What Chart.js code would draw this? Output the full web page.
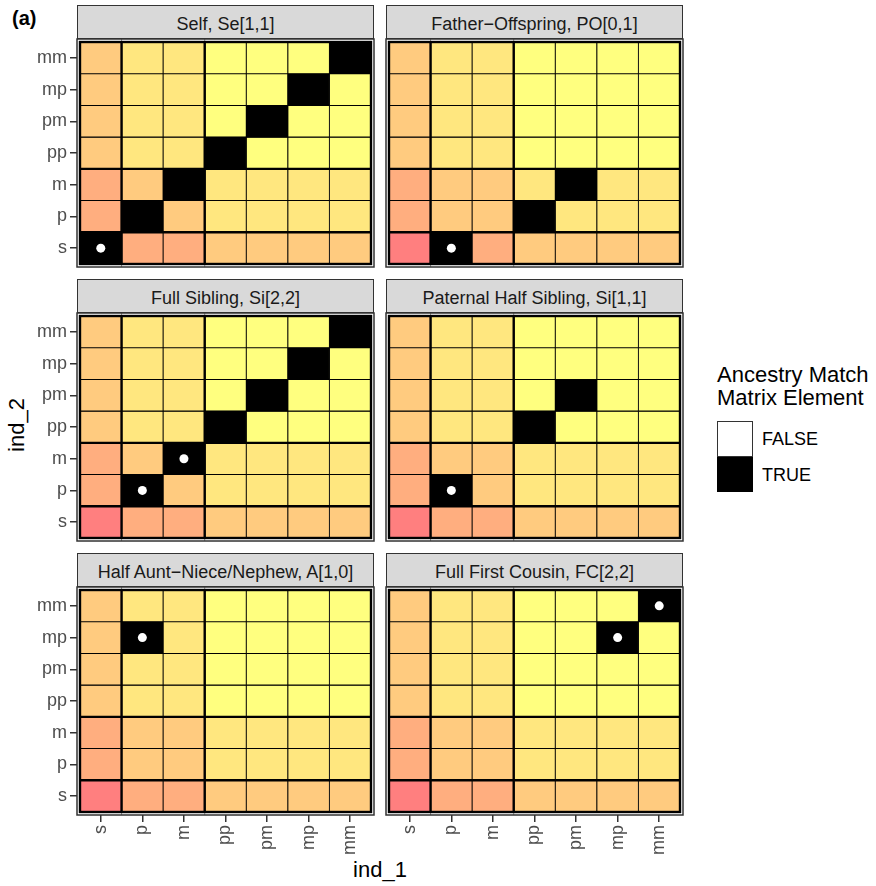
<!DOCTYPE html>
<html>
<head>
<meta charset="utf-8">
<script src="https://cdn.jsdelivr.net/npm/chart.js@4.4.0/dist/chart.umd.min.js"></script>
<style>
  body { margin: 0; background: #fff; width: 876px; height: 886px; position: relative; overflow: hidden;
         font-family: 'Liberation Sans', Arial, sans-serif; }
  canvas { position: absolute; }
  .strip { position: absolute; box-sizing: border-box; background: #d9d9d9; border: 1.5px solid #333;
           color: #1a1a1a; font-size: 18px; text-align: center; line-height: 31px; }
  .strip span { position: relative; top: 3px; }
  .txt { position: absolute; white-space: nowrap; color: #000; }
  .key { position: absolute; box-sizing: border-box; width: 36px; }
</style>
</head>
<body>
<div class="txt" style="left:12px; top:8px; font-size:20px; line-height:20px; font-weight:bold;">(a)</div>
<div class="txt" style="left:330px; top:859px; width:100px; text-align:center; font-size:22px; line-height:22px;">ind_1</div>
<div class="txt" style="left:-33px; top:414px; width:100px; height:22px; text-align:center; font-size:22px; line-height:22px; transform:rotate(-90deg);">ind_2</div>
<div id="legend"></div>

<script>
// categories (same on both axes), bottom-to-top / left-to-right
const levels = ['s', 'p', 'm', 'pp', 'pm', 'mp', 'mm'];

// background colour index of each cell, rows s..mm, columns s..mm
const bgLevel = [
  [0, 1, 1, 2, 2, 2, 2],
  [1, 2, 2, 3, 3, 3, 3],
  [1, 2, 2, 3, 3, 3, 3],
  [2, 3, 3, 4, 4, 4, 4],
  [2, 3, 3, 4, 4, 4, 4],
  [2, 3, 3, 4, 4, 4, 4],
  [2, 3, 3, 4, 4, 4, 4],
];
const heatColors = ['#ff7f7f', '#ffae7f', '#ffcb7f', '#ffe77f', '#ffff7f'];

// boundaries between the s | p,m | pp..mm groups
const groupBreaks = [0.5, 2.5];

const panelTitles = [
  'Self, Se[1,1]',
  'Father\u2212Offspring, PO[0,1]',
  'Full Sibling, Si[2,2]',
  'Paternal Half Sibling, Si[1,1]',
  'Half Aunt\u2212Niece/Nephew, A[1,0]',
  'Full First Cousin, FC[2,2]',
];

// TRUE cells as [ind_1, ind_2]
const trueCells = [
  [['s', 's'], ['p', 'p'], ['m', 'm'], ['pp', 'pp'], ['pm', 'pm'], ['mp', 'mp'], ['mm', 'mm']],
  [['p', 's'], ['pp', 'p'], ['pm', 'm']],
  [['p', 'p'], ['m', 'm'], ['pp', 'pp'], ['pm', 'pm'], ['mp', 'mp'], ['mm', 'mm']],
  [['p', 'p'], ['pp', 'pp'], ['pm', 'pm']],
  [['p', 'mp']],
  [['mp', 'mp'], ['mm', 'mm']],
];

// cells marked with a white dot
const dotCells = [
  [['s', 's']],
  [['p', 's']],
  [['p', 'p'], ['m', 'm']],
  [['p', 'p']],
  [['p', 'mp']],
  [['mp', 'mp'], ['mm', 'mm']],
];

const legendLabels = ['FALSE', 'TRUE'];
const legendFills = ['#ffffff', '#000000'];

// layout of the facet grid
const panelLeft = [77, 386];
const panelTop = [39, 313, 587];
const panelW = 297;
const panelH = 228;
const stripH = 34;

Chart.defaults.font.family = "'Liberation Sans', Arial, sans-serif";

// Рамка панели, толстые линии между группами
const panelFrame = {
  id: 'panelFrame',
  beforeDatasetsDraw(chart) {
    const { ctx, chartArea: a, scales: { x } } = chart;
    ctx.save();
    ctx.strokeStyle = '#8c8c8c';
    ctx.lineWidth = 1;
    groupBreaks.forEach((b) => {
      const px = x.getPixelForValue(b);
      ctx.beginPath();
      ctx.moveTo(px, a.top);
      ctx.lineTo(px, a.bottom);
      ctx.stroke();
    });
    ctx.restore();
  },
  afterDatasetsDraw(chart) {
    const { ctx, chartArea: a, scales: { x, y } } = chart;
    const x0 = x.getPixelForValue(-0.5);
    const x1 = x.getPixelForValue(levels.length - 0.5);
    const y0 = y.getPixelForValue(-0.5);
    const y1 = y.getPixelForValue(levels.length - 0.5);
    ctx.save();
    ctx.strokeStyle = '#000';
    ctx.lineWidth = 2.4;
    groupBreaks.forEach((b) => {
      const px = x.getPixelForValue(b);
      const py = y.getPixelForValue(b);
      ctx.beginPath();
      ctx.moveTo(px, y1);
      ctx.lineTo(px, y0);
      ctx.moveTo(x0, py);
      ctx.lineTo(x1, py);
      ctx.stroke();
    });
    ctx.strokeRect(x0, y1, x1 - x0, y0 - y1);
    ctx.strokeStyle = '#333';
    ctx.lineWidth = 1.5;
    ctx.strokeRect(a.left, a.top, a.right - a.left, a.bottom - a.top);
    ctx.restore();
  },
};

function cellBar(cell) {
  const r = levels.indexOf(cell[1]);
  return { x: levels.indexOf(cell[0]), y: [r - 0.5, r + 0.5] };
}

function cellPoint(cell) {
  return { x: levels.indexOf(cell[0]), y: levels.indexOf(cell[1]) };
}

const fixedTicks = (scale) => {
  scale.ticks = levels.map((_, i) => ({ value: i }));
};

const tickFont = { size: 18 };

panelTitles.forEach((title, i) => {
  const col = i % 2;
  const row = Math.floor(i / 2);
  const showY = col === 0;
  const showX = row === 2;

  // strip
  const strip = document.createElement('div');
  strip.className = 'strip';
  strip.style.left = panelLeft[col] + 'px';
  strip.style.top = (panelTop[row] - stripH) + 'px';
  strip.style.width = panelW + 'px';
  strip.style.height = stripH + 'px';
  strip.innerHTML = '<span>' + title + '</span>';
  document.body.appendChild(strip);

  // canvas
  const pad = 6;
  const yAxisW = 77;
  const xAxisH = 50;
  const canvas = document.createElement('canvas');
  const left = showY ? 0 : panelLeft[col] - pad;
  const width = (showY ? yAxisW : pad) + panelW + pad;
  const height = pad + panelH + (showX ? xAxisH : pad);
  canvas.width = width;
  canvas.height = height;
  canvas.style.left = left + 'px';
  canvas.style.top = (panelTop[row] - pad) + 'px';
  canvas.style.width = width + 'px';
  canvas.style.height = height + 'px';
  document.body.appendChild(canvas);

  const bgData = [];
  const bgColors = [];
  levels.forEach((rowName, r) => {
    levels.forEach((colName, c) => {
      bgData.push(cellBar([colName, rowName]));
      bgColors.push(heatColors[bgLevel[r][c]]);
    });
  });

  const barCommon = {
    type: 'bar',
    grouped: false,
    barPercentage: 1,
    categoryPercentage: 1,
    borderColor: '#000',
    borderWidth: 0.85,
    borderSkipped: false,
  };

  new Chart(canvas.getContext('2d'), {
    type: 'bar',
    data: {
      datasets: [
        { ...barCommon, label: 'background', data: bgData, backgroundColor: bgColors, order: 3 },
        { ...barCommon, label: 'TRUE', data: trueCells[i].map(cellBar), backgroundColor: '#000', order: 2 },
        {
          type: 'scatter',
          label: 'dot',
          data: dotCells[i].map(cellPoint),
          backgroundColor: '#fff',
          borderWidth: 0,
          pointRadius: 4.5,
          order: 1,
        },
      ],
    },
    options: {
      responsive: false,
      animation: false,
      events: [],
      layout: {
        autoPadding: false,
        padding: {
          top: pad,
          bottom: showX ? 0 : pad,
          left: showY ? 0 : pad,
          right: pad,
        },
      },
      plugins: { legend: { display: false }, tooltip: { enabled: false }, title: { display: false } },
      scales: {
        x: {
          type: 'linear',
          min: -0.572,
          max: 6.572,
          offset: false,
          display: showX,
          afterBuildTicks: fixedTicks,
          afterFit: (scale) => {
            if (!showX) return;
            scale.height = xAxisH;
            scale.paddingLeft = 0;
            scale.paddingRight = 0;
          },
          ticks: {
            callback: (v) => levels[v],
            autoSkip: false,
            minRotation: 90,
            maxRotation: 90,
            padding: 3,
            color: '#4d4d4d',
            font: tickFont,
          },
          grid: { offset: false, drawOnChartArea: false, tickLength: 7, color: '#333', lineWidth: 1.5 },
          border: { display: false },
        },
        y: {
          type: 'linear',
          min: -0.595,
          max: 6.595,
          display: showY,
          afterBuildTicks: fixedTicks,
          afterFit: (scale) => {
            if (!showY) return;
            scale.width = yAxisW;
            scale.paddingTop = 0;
            scale.paddingBottom = 0;
          },
          ticks: {
            callback: (v) => levels[v],
            autoSkip: false,
            padding: 3,
            color: '#4d4d4d',
            font: tickFont,
          },
          grid: { drawOnChartArea: false, tickLength: 7, color: '#333', lineWidth: 1.5 },
          border: { display: false },
        },
      },
    },
    plugins: [panelFrame],
  });
});

// legend
const legend = document.getElementById('legend');
const lt = document.createElement('div');
lt.className = 'txt';
lt.style.cssText = 'left:717px; top:363px; font-size:22px; line-height:23px;';
lt.innerHTML = 'Ancestry Match<br>Matrix Element';
legend.appendChild(lt);
legendLabels.forEach((label, k) => {
  const top = 421 + k * 35.5;
  const key = document.createElement('div');
  key.className = 'key';
  key.style.left = '717px';
  key.style.top = top + 'px';
  key.style.height = '35.5px';
  key.style.background = legendFills[k];
  key.style.border = '1.5px solid ' + (k === 0 ? '#333' : '#000');
  legend.appendChild(key);
  const t = document.createElement('div');
  t.className = 'txt';
  t.style.cssText = 'left:762px; font-size:18px; line-height:20px;';
  t.style.top = (top + 8) + 'px';
  t.textContent = label;
  legend.appendChild(t);
});
</script>
</body>
</html>
